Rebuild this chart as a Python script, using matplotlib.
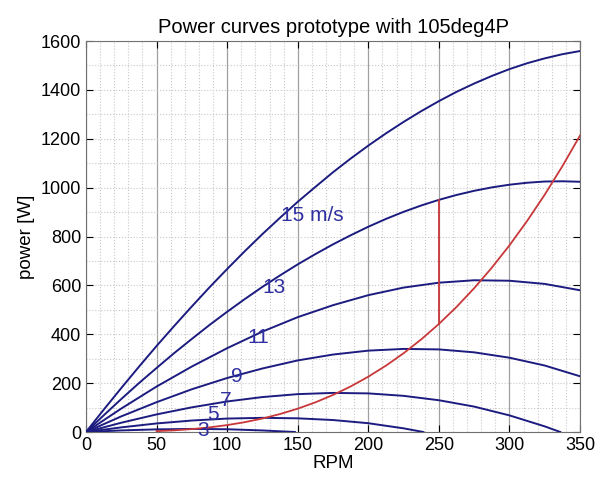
import numpy as np
import matplotlib
matplotlib.use("Agg")
import matplotlib.pyplot as plt
from matplotlib.ticker import MultipleLocator

plt.rcParams['font.family'] = ['Liberation Sans', 'DejaVu Sans']

# power curves [W] for each wind speed
rpm_fine = [0, 12.5, 25, 37.5, 50, 62.5, 75, 87.5, 100, 112.5, 125, 137.5, 150, 162.5, 175,
            187.5, 200, 212.5, 225, 237.5, 250, 262.5, 275, 287.5, 300, 312.5, 325, 337.5, 350]
p15 = [0, 91, 180, 267, 352, 434, 514, 592, 667, 740, 810, 877, 942, 1003, 1063,
       1119, 1172, 1222, 1269, 1313, 1354, 1392, 1426, 1457, 1485, 1509, 1529, 1546, 1559]
p13 = [0, 68, 135, 200, 262, 323, 381, 438, 492, 544, 594, 641, 686, 728, 768,
       805, 840, 872, 901, 927, 950, 970, 987, 1001, 1012, 1020, 1025, 1026, 1024]

rpm = [0, 25, 50, 75, 100, 125, 150, 175, 200, 225, 250, 275, 300, 325, 350]
p11 = [0, 96, 186, 268, 343, 411, 470, 519, 560, 591, 611, 621, 619, 606, 580]
p9 = [0, 64, 122, 175, 221, 260, 293, 317, 333, 340, 338, 326, 304, 272, 228]

rpm7 = [0, 25, 50, 75, 100, 125, 150, 175, 200, 225, 250, 275, 300, 325, 336]
p7 = [0, 38, 72, 101, 125, 143, 155, 160, 158, 148, 130, 104, 68, 23, 0]

rpm5 = [0, 25, 50, 75, 100, 125, 150, 175, 200, 225, 239]
p5 = [0, 19, 35, 47, 55, 58, 56, 49, 36, 15, 0]

rpm3 = [0, 25, 50, 75, 100, 125, 148]
p3 = [0, 6.5, 10.8, 12.6, 11.3, 6.4, 0]

# load curve (red)
rpm_load = [50, 62.5, 75, 87.5, 100, 112.5, 125, 137.5, 150, 162.5, 175, 187.5, 200, 212.5,
            225, 237.5, 250, 262.5, 275, 287.5, 300, 312.5, 325, 337.5, 350]
p_load = [3.5, 6.9, 11.9, 19.0, 28.3, 40.3, 55.3, 73.6, 95.5, 121.4, 151.7, 186.5, 226.4, 271.6,
          322.4, 379.1, 442.2, 511.9, 588.6, 672.5, 764.1, 863.7, 971.5, 1087.9, 1213.4]

# vertical red segment
rpm_cut = [250, 250]
p_cut = [442, 950]

labels = ["15 m/s", "13", "11", "9", "7", "5", "3"]
label_x = [138, 125, 114, 103, 95, 86, 79]
label_y = [884, 593, 385, 229, 127, 70, 8]

blue = "#1c1c80"
red = "#c8383a"

fig = plt.figure(figsize=(5.98, 4.79), dpi=100)
ax = fig.add_axes([0.1438, 0.0981, 0.8262, 0.8163])

for x, y in [(rpm_fine, p15), (rpm_fine, p13), (rpm, p11), (rpm, p9), (rpm7, p7), (rpm5, p5), (rpm3, p3)]:
    ax.plot(x, y, color=blue, lw=1.4, zorder=3)

ax.plot(rpm_load, p_load, color=red, lw=1.3, zorder=4)
ax.plot(rpm_cut, p_cut, color=red, lw=1.3, zorder=4)

for t, x, y in zip(labels, label_x, label_y):
    ax.text(x, y, t, color="#2f2fa0", fontsize=15, ha="left", va="center", zorder=5)

ax.set_xlim(0, 350)
ax.set_ylim(0, 1600)
ax.xaxis.set_major_locator(MultipleLocator(50))
ax.xaxis.set_minor_locator(MultipleLocator(10))
ax.yaxis.set_major_locator(MultipleLocator(200))
ax.yaxis.set_minor_locator(MultipleLocator(100))

ax.grid(True, which="major", axis="x", color="#a0a0a0", lw=0.9, ls="-")
ax.grid(True, which="minor", axis="x", color="#c8c8c8", lw=0.8, ls=":")
ax.grid(True, which="both", axis="y", color="#c8c8c8", lw=0.8, ls=":")
ax.set_axisbelow(True)

ax.tick_params(which="both", direction="in", top=True, right=True, labelsize=13)
ax.tick_params(which="major", length=5)
ax.tick_params(which="minor", length=0)
for s in ax.spines.values():
    s.set_color("#707070")

ax.set_title("Power curves prototype with 105deg4P", fontsize=14.5)
ax.set_xlabel("RPM", fontsize=13.5, labelpad=1)
ax.set_ylabel("power [W]", fontsize=13.5)

fig.savefig("out.png", dpi=100)
